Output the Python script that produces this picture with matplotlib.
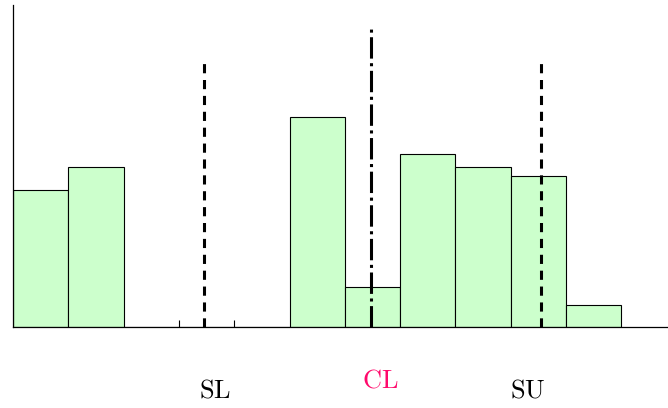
import matplotlib.pyplot as plt

plt.rcParams['mathtext.fontset'] = 'cm'

# histogram: bin index -> height (pixel-like units)
bins = [0, 1, 2, 3, 4, 5, 6, 7, 8, 9, 10]
heights = [137, 160, 0, 0, 0, 210, 40, 173, 160, 151, 22]

# control limits (position in bin units, line height)
limit_names = ['SL', 'CL', 'SU']
limit_pos = [3.45, 6.47, 9.55]
limit_top = [264, 300, 264]
limit_colors = ['black', '#ff0a6c', 'black']

fig = plt.figure(figsize=(6.68, 4.08), dpi=100)
ax = fig.add_axes([13 / 668, 81 / 408, 655 / 668, 322 / 408])

ax.bar(bins, heights, width=1, align='edge', color='#ccffcc',
       edgecolor='black', linewidth=0.8, zorder=2)

# SL / SU dashed, CL dash-dot
ax.vlines(limit_pos[0], 0, limit_top[0], colors='black', lw=2.2,
          linestyles=(0, (3, 2.2)), zorder=3)
ax.vlines(limit_pos[1], 0, limit_top[1], colors='black', lw=2.2,
          linestyles=(0, (7, 1.5, 1, 1.5)), zorder=3)
ax.vlines(limit_pos[2], 0, limit_top[2], colors='black', lw=2.2,
          linestyles=(0, (3, 2.2)), zorder=3)

ax.set_xlim(0, 655 / 55.3)
ax.set_ylim(0, 322)

for sp in ['top', 'right']:
    ax.spines[sp].set_visible(False)
ax.spines['left'].set_linewidth(0.9)
ax.spines['bottom'].set_linewidth(0.9)

ax.set_yticks([])
ax.set_xticks([3, 4])
ax.set_xticklabels([])
ax.tick_params(axis='x', direction='in', length=5, width=0.8)

# labels under the axis
label_x = [215, 380, 528]
label_y = [391, 380, 391]
for name, x, y, c in zip(limit_names, label_x, label_y, limit_colors):
    fig.text(x / 668, 1 - y / 408, r'$\mathrm{%s}$' % name, color=c,
             fontsize=19, ha='center', va='center')

plt.savefig('out.png', dpi=100)
